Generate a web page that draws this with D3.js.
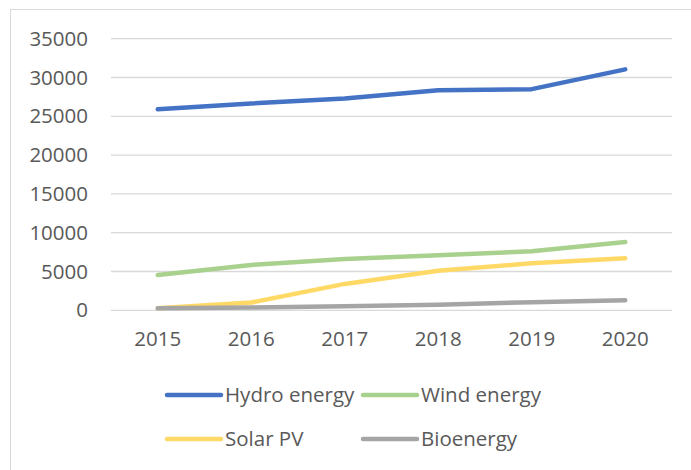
<!DOCTYPE html>
<html>
<head>
<meta charset="utf-8">
<script src="https://cdn.jsdelivr.net/npm/d3@7"></script>
<style>
  body { margin: 0; background: #fff; }
  text { font-family: "Open Sans", "Noto Sans", sans-serif; fill: #595959; }
</style>
</head>
<body>
<div id="chart"></div>
<script>
// data
var years = ["2015", "2016", "2017", "2018", "2019", "2020"];
var hydro = [25900, 26650, 27300, 28350, 28500, 31050];
var wind = [4550, 5850, 6600, 7100, 7600, 8800];
var solar = [250, 1000, 3400, 5100, 6050, 6700];
var bio = [250, 350, 530, 700, 1050, 1300];
var seriesNames = ["Hydro energy", "Wind energy", "Solar PV", "Bioenergy"];
var colors = ["#4472C4", "#A9D18E", "#FFD966", "#A5A5A5"];
var yTicks = [0, 5000, 10000, 15000, 20000, 25000, 30000, 35000];

var series = [hydro, wind, solar, bio];

var W = 691, H = 470;
var margin = {top: 38.7, left: 111, right: 19, bottom: 159.7};
var width = W - margin.left - margin.right,
    height = H - margin.top - margin.bottom;
var fontSize = "20.5px";

var svg = d3.select("#chart")
    .append("svg")
    .attr("width", W)
    .attr("height", H);

// chart frame
svg.append("rect")
    .attr("x", 10.5).attr("y", 9.5)
    .attr("width", 720).attr("height", 500)
    .attr("fill", "none")
    .attr("stroke", "#d9d9d9")
    .attr("stroke-width", 1);

var g = svg.append("g")
    .attr("transform", "translate(" + margin.left + "," + margin.top + ")");

var x = d3.scaleBand()
    .domain(years)
    .range([0, width]);

var y = d3.scaleLinear()
    .domain([0, 35000])
    .range([height, 0]);

// gridlines
g.append("g")
    .selectAll("line")
    .data(yTicks)
    .enter()
    .append("line")
    .attr("x1", 0).attr("x2", width)
    .attr("y1", d => y(d)).attr("y2", d => y(d))
    .attr("stroke", "#d9d9d9")
    .attr("stroke-width", 1.3);

// y axis labels
var yAxis = g.append("g")
    .call(d3.axisLeft(y).tickValues(yTicks).tickSize(0).tickPadding(23).tickFormat(d3.format("d")));
yAxis.select(".domain").remove();
yAxis.selectAll("text")
    .style("font-size", fontSize)
    .style("font-family", "'Open Sans', sans-serif")
    .attr("fill", "#595959");

// x axis labels
var xAxis = g.append("g")
    .attr("transform", "translate(0," + height + ")")
    .call(d3.axisBottom(x).tickSize(0).tickPadding(21));
xAxis.select(".domain").remove();
xAxis.selectAll("text")
    .style("font-size", fontSize)
    .style("font-family", "'Open Sans', sans-serif")
    .attr("fill", "#595959");

// lines
var line = d3.line()
    .x(function(d, i) { return x(years[i]) + x.bandwidth() / 2; })
    .y(function(d) { return y(d); });

series.forEach(function(s, i) {
    g.append("path")
        .datum(s)
        .attr("d", line)
        .attr("fill", "none")
        .attr("stroke", colors[i])
        .attr("stroke-width", 4.5)
        .attr("stroke-linecap", "round")
        .attr("stroke-linejoin", "round");
});

// legend
var legendPos = [
    {x: 167, y: 395},
    {x: 363, y: 395},
    {x: 167, y: 439},
    {x: 363, y: 439}
];
var legend = svg.append("g");
seriesNames.forEach(function(name, i) {
    var p = legendPos[i];
    legend.append("line")
        .attr("x1", p.x).attr("x2", p.x + 54)
        .attr("y1", p.y).attr("y2", p.y)
        .attr("stroke", colors[i])
        .attr("stroke-width", 4.5)
        .attr("stroke-linecap", "round");
    legend.append("text")
        .attr("x", p.x + 58)
        .attr("y", p.y)
        .attr("dy", "0.35em")
        .style("font-size", fontSize)
        .text(name);
});
</script>
</body>
</html>
